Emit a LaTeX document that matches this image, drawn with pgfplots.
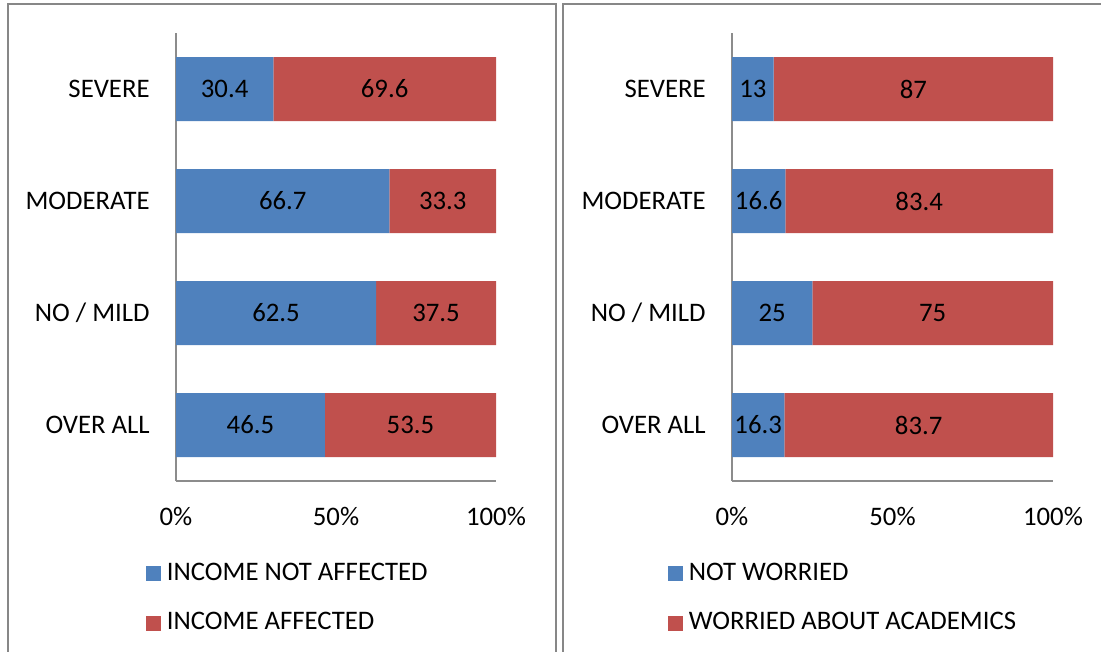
\documentclass[border=0pt]{standalone}
\usepackage{pgfplots}
\pgfplotsset{compat=1.18}
\usepackage{fontspec}
\setmainfont{Carlito}
\definecolor{cblue}{HTML}{4F81BD}
\definecolor{cred}{HTML}{C0504D}
\definecolor{framec}{HTML}{878787}
\definecolor{axc}{HTML}{8C8C8C}
\pgfplotsset{
 base/.style={scale only axis, height=179.2pt, anchor=south west,
   xmin=0, xmax=100, ymin=-0.5, ymax=3.5,
   font=\fontsize{10.7}{12.8}\selectfont},
 main/.style={base, xbar stacked, bar width=25.6pt,
   axis x line*=bottom, axis y line*=left,
   axis line style={-, draw=axc, line width=0.6pt},
   xtick={0,50,100}, xticklabels={0\%,50\%,100\%},
   ytick={0,1,2,3}, yticklabels={OVER ALL,NO / MILD,MODERATE,SEVERE},
   major tick length=0pt,
   xticklabel style={yshift=-7pt}, yticklabel style={xshift=-7pt},
   legend cell align=left,
   legend style={draw=none, fill=none, inner sep=0pt, row sep=8.4pt,
     anchor=north west,
     font=\fontsize{10.7}{12.8}\selectfont,
     nodes={inner sep=1.4pt}}},
 lab/.style={base, hide axis, clip=false},
 labplot/.style={draw=none, mark=none, nodes near coords, point meta=explicit symbolic,
   every node near coord/.append style={anchor=center, text=black,
     font=\fontsize{10.7}{12.8}\selectfont}},
}
\begin{document}
\begin{tikzpicture}
\useasboundingbox (0,0) rectangle (440.4pt,260.4pt);
\draw[framec, line width=0.8pt] (3.2pt,-5pt) -- (3.2pt,258.8pt) -- (222.4pt,258.8pt) -- (222.4pt,-5pt);
\draw[framec, line width=0.8pt] (225.2pt,-5pt) -- (225.2pt,258.8pt) -- (450pt,258.8pt);

% left panel
\begin{axis}[main, at={(70.4pt,68pt)}, width=128pt,
  legend style={at={(-0.094,-0.175)}},
  legend image code/.code={\fill[#1] (0pt,-3pt) rectangle (6pt,3pt);}]
\addplot[fill=cblue, draw=none] coordinates {(46.5,0) (62.5,1) (66.7,2) (30.4,3)};
\addplot[fill=cred, draw=none] coordinates {(53.5,0) (37.5,1) (33.3,2) (69.6,3)};
\legend{\hspace{0.8pt}INCOME NOT AFFECTED, \hspace{0.8pt}INCOME AFFECTED}
\end{axis}
\begin{axis}[lab, at={(70.4pt,68pt)}, width=128pt]
\addplot[labplot] table[meta=l] {
x y l
15.2 3 30.4
65.2 3 69.6
33.35 2 66.7
83.35 2 33.3
31.25 1 62.5
81.25 1 37.5
23.25 0 46.5
73.25 0 53.5
};
\end{axis}

% right panel
\begin{axis}[main, at={(292.8pt,68pt)}, width=128.4pt,
  legend style={at={(-0.2,-0.175)}},
  legend image code/.code={\fill[#1] (0pt,-3pt) rectangle (6pt,3pt);}]
\addplot[fill=cblue, draw=none] coordinates {(16.3,0) (25,1) (16.6,2) (13,3)};
\addplot[fill=cred, draw=none] coordinates {(83.7,0) (75,1) (83.4,2) (87,3)};
\legend{\hspace{0.8pt}NOT WORRIED, \hspace{0.8pt}WORRIED ABOUT ACADEMICS}
\end{axis}
\begin{axis}[lab, at={(292.8pt,68pt)}, width=128.4pt]
\addplot[labplot] table[meta=l] {
x y l
6.5 3 13
56.5 3 87
8.3 2 16.6
58.3 2 83.4
12.5 1 25
62.5 1 75
8.15 0 16.3
58.15 0 83.7
};
\end{axis}
\end{tikzpicture}
\end{document}
